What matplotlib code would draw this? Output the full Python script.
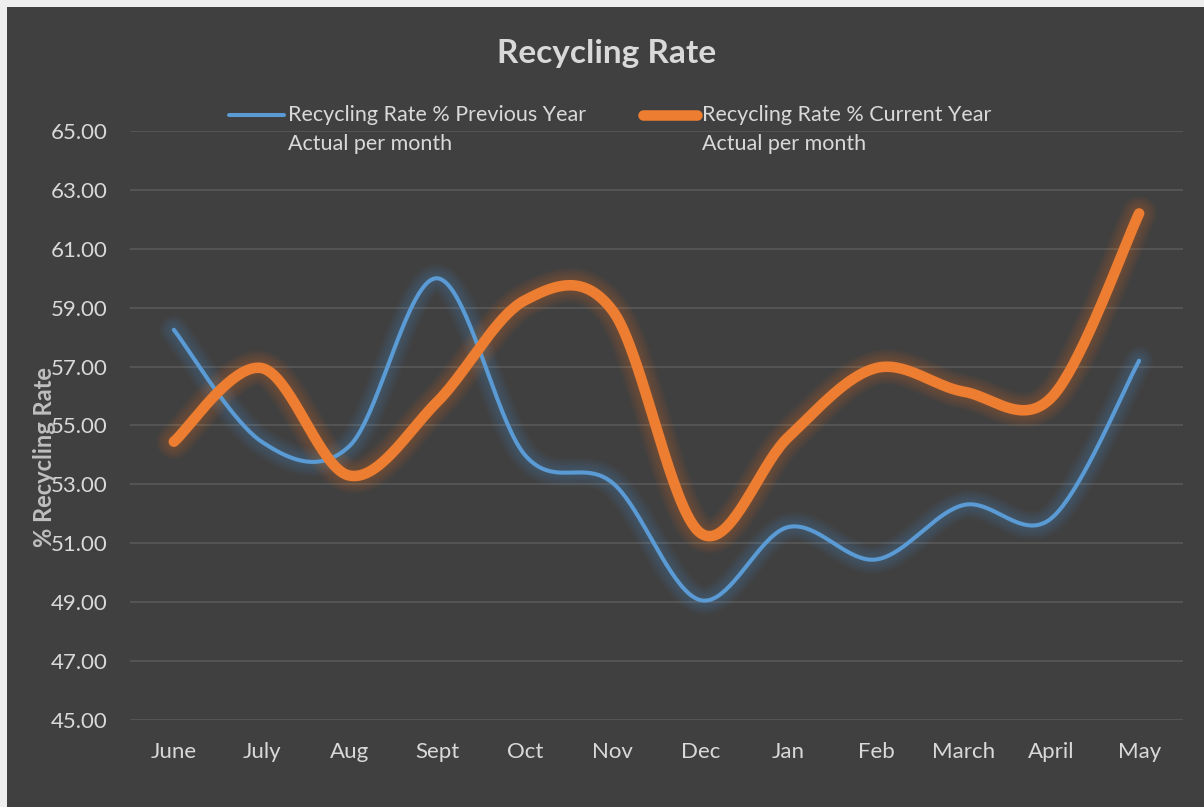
import matplotlib
matplotlib.use('Agg')
import matplotlib.pyplot as plt
import numpy as np
from matplotlib.lines import Line2D
from matplotlib.patches import Rectangle

# data
months = ['June', 'July', 'Aug', 'Sept', 'Oct', 'Nov', 'Dec', 'Jan', 'Feb', 'March', 'April', 'May']
prev_year = [58.25, 54.45, 54.30, 60.00, 54.00, 53.05, 49.07, 51.55, 50.45, 52.30, 51.85, 57.20]
curr_year = [54.45, 56.95, 53.30, 55.80, 59.25, 58.90, 51.35, 54.60, 56.95, 56.15, 55.95, 62.20]
prev_label = ['Recycling Rate % Previous Year', 'Actual per month']
curr_label = ['Recycling Rate % Current Year', 'Actual per month']
yticks = np.arange(45, 66, 2)

BG = '#404040'
TXT = '#d9d9d9'
BLUE = '#5b9bd5'
ORANGE = '#ed7d31'
plt.rcParams['font.family'] = ['Lato', 'DejaVu Sans']


def smooth(xs, ys, n=40):
    # catmull-rom style bezier, like excel's smoothed line
    pts = np.column_stack([xs, ys]).astype(float)
    ext = np.vstack([pts[0], pts, pts[-1]])
    out = []
    t = np.linspace(0, 1, n)[:, None]
    for i in range(len(pts) - 1):
        p0, p1, p2, p3 = ext[i], ext[i + 1], ext[i + 2], ext[i + 3]
        c1 = p1 + (p2 - p0) / 6
        c2 = p2 - (p3 - p1) / 6
        seg = ((1 - t) ** 3) * p1 + 3 * ((1 - t) ** 2) * t * c1 + 3 * (1 - t) * t ** 2 * c2 + t ** 3 * p2
        out.append(seg if i == 0 else seg[1:])
    out = np.vstack(out)
    return out[:, 0], out[:, 1]


def glow_line(ax, xs, ys, color, lw):
    sx, sy = smooth(xs, ys)
    for w in np.linspace(lw + 18, lw + 1, 10):
        ax.plot(sx, sy, color=color, lw=w, alpha=0.033, solid_capstyle='round', zorder=2)
    ax.plot(sx, sy, color=color, lw=lw, solid_capstyle='round', zorder=3)


fig = plt.figure(figsize=(12.04, 8.07), dpi=100)
fig.patch.set_facecolor('#eeeeee')
fig.add_artist(Rectangle((7 / 1204, 0), 1, 1 - 7 / 807, transform=fig.transFigure,
                         facecolor=BG, edgecolor='none', zorder=0))

ax = fig.add_axes([130 / 1204, 87 / 807, 1053 / 1204, 589 / 807])
ax.set_facecolor(BG)
ax.patch.set_alpha(0)

x = np.arange(len(months))
glow_line(ax, x, prev_year, BLUE, 2.9)
glow_line(ax, x, curr_year, ORANGE, 7.6)

ax.set_xlim(-0.5, len(months) - 0.5)
ax.set_ylim(45, 65)
ax.set_yticks(yticks)
ax.set_yticklabels(['%.2f' % v for v in yticks])
ax.set_xticks(x)
ax.set_xticklabels(months)
ax.tick_params(colors=TXT, labelsize=16, length=0, pad=16)
ax.grid(axis='y', color='#575757', lw=1.3, zorder=1)
ax.set_axisbelow(True)
for s in ax.spines.values():
    s.set_visible(False)

fig.text(44 / 1204, 1 - 457 / 807, '% Recycling Rate', rotation=90, ha='center', va='center',
         color='#bfbfbf', fontsize=17, fontweight='bold')
fig.text(607 / 1204, 1 - 53 / 807, 'Recycling Rate', ha='center', va='center',
         color=TXT, fontsize=24, fontweight='bold')

# legend drawn by hand so the handle sits on the first text line
for (x0, x1, tx), col, lw, lab in [((229, 284, 288), BLUE, 2.9, prev_label),
                                   ((643, 697, 702), ORANGE, 7.6, curr_label)]:
    fig.add_artist(Line2D([x0 / 1204, x1 / 1204], [1 - 115 / 807] * 2, color=col, lw=lw,
                          solid_capstyle='round', transform=fig.transFigure))
    fig.text(tx / 1204, 1 - 115 / 807, lab[0], ha='left', va='center', color=TXT, fontsize=15.5)
    fig.text(tx / 1204, 1 - 144 / 807, lab[1], ha='left', va='center', color=TXT, fontsize=15.5)

fig.savefig('out.png', dpi=100, facecolor=fig.get_facecolor())
